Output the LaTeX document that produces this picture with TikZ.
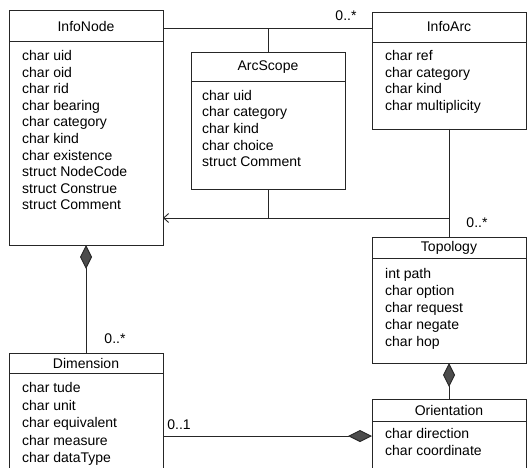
\documentclass[tikz,border=0pt]{standalone}
\usepackage{fontspec}
\setmainfont{Liberation Sans}
\usetikzlibrary{arrows.meta,calc}
\begin{document}
\begin{tikzpicture}[x=1pt,y=-1pt,
  cls/.style={draw=black!85, line width=0.9pt, anchor=north west, inner sep=0, outer sep=0, fill=white},
  sep/.style={draw=black!85, line width=0.9pt},
  ttl/.style={font=\fontsize{14}{16}\selectfont, inner sep=0},
  item/.style={font=\fontsize{14}{16}\selectfont, anchor=west, inner sep=0, text height=10pt, text depth=3pt},
  lbl/.style={font=\fontsize{14}{16}\selectfont, inner sep=0},
  conn/.style={draw=black!85, line width=0.9pt},
  comp/.style={conn, -{Diamond[length=24pt,width=12pt,fill=black!70]}},
  nav/.style={conn, -{Straight Barb[length=5pt,width=9pt]}}]
\useasboundingbox (0,0) rectangle (527,468);
\clip (0,0) rectangle (527,468);

% ---------- InfoNode
\node[cls, minimum width=154pt, minimum height=235pt] (infonode) at (9,10) {};
\draw[sep] ($(infonode.north west)+(0,31)$) -- ($(infonode.north east)+(0,31)$);
\node[ttl] (infonode-t) at ($(infonode.north)+(0,16)$) {InfoNode};
\foreach \t [count=\i from 0] in {char uid,char oid,char rid,char bearing,char category,char kind,char existence,struct NodeCode,struct Construe,struct Comment}
  \node[item] (infonode-\i) at ($(infonode.north west)+(13,47+\i*16.6)$) {\t};

% ---------- InfoArc
\node[cls, minimum width=154pt, minimum height=117pt] (infoarc) at (372,12) {};
\draw[sep] ($(infoarc.north west)+(0,30)$) -- ($(infoarc.north east)+(0,30)$);
\node[ttl] (infoarc-t) at ($(infoarc.north)+(0,15)$) {InfoArc};
\foreach \t [count=\i from 0] in {char ref,char category,char kind,char multiplicity}
  \node[item] (infoarc-\i) at ($(infoarc.north west)+(13,45+\i*16.7)$) {\t};

% ---------- ArcScope
\node[cls, minimum width=154pt, minimum height=137pt] (arcscope) at (191,52) {};
\draw[sep] ($(arcscope.north west)+(0,29)$) -- ($(arcscope.north east)+(0,29)$);
\node[ttl] (arcscope-t) at ($(arcscope.north)+(0,15)$) {ArcScope};
\foreach \t [count=\i from 0] in {char uid,char category,char kind,char choice,struct Comment}
  \node[item] (arcscope-\i) at ($(arcscope.north west)+(11,45+\i*16.5)$) {\t};

% ---------- Topology
\node[cls, minimum width=154pt, minimum height=126pt] (topology) at (372,237) {};
\draw[sep] ($(topology.north west)+(0,21)$) -- ($(topology.north east)+(0,21)$);
\node[ttl] (topology-t) at ($(topology.north)+(0,11)$) {Topology};
\foreach \t [count=\i from 0] in {int path,char option,char request,char negate,char hop}
  \node[item] (topology-\i) at ($(topology.north west)+(13,38+\i*17)$) {\t};

% ---------- Orientation
\node[cls, minimum width=154pt, minimum height=74pt] (orientation) at (372,399) {};
\draw[sep] ($(orientation.north west)+(0,22)$) -- ($(orientation.north east)+(0,22)$);
\node[ttl] (orientation-t) at ($(orientation.north)+(0,11)$) {Orientation};
\foreach \t [count=\i from 0] in {char direction,char coordinate}
  \node[item] (orientation-\i) at ($(orientation.north west)+(13,36+\i*17)$) {\t};

% ---------- Dimension
\node[cls, minimum width=154pt, minimum height=166pt] (dimension) at (9,353) {};
\draw[sep] ($(dimension.north west)+(0,20)$) -- ($(dimension.north east)+(0,20)$);
\node[ttl] (dimension-t) at ($(dimension.north)+(0,10)$) {Dimension};
\foreach \t [count=\i from 0] in {char tude,char unit,char equivalent,char measure,char dataType}
  \node[item] (dimension-\i) at ($(dimension.north west)+(13,36+\i*17.5)$) {\t};

% ---------- connectors
\coordinate (c1) at ($(infonode.north east)+(0,18)$);
\draw[conn] (c1) -- (c1 -| infoarc.west);
\draw[conn] (arcscope.north) -- (arcscope.north |- c1);
\coordinate (j) at ($(arcscope.south)+(0,29)$);
\draw[conn] (arcscope.south) -- (j);
\draw[conn] (infoarc.south) -- (topology.north);
\draw[nav] (j -| infoarc.south) -- (j -| infonode.east);
\draw[comp] (dimension.north) -- (infonode.south);
\draw[comp] (orientation.north) -- (topology.south);
\draw[comp] (dimension.east) -- (orientation.west);

% ---------- multiplicities
\node[lbl] (m1) at (346,16) {0..*};
\node[lbl] (m2) at (477,223) {0..*};
\node[lbl] (m3) at (115,339) {0..*};
\node[lbl] (m4) at (179,425) {0..1};
\end{tikzpicture}
\end{document}
